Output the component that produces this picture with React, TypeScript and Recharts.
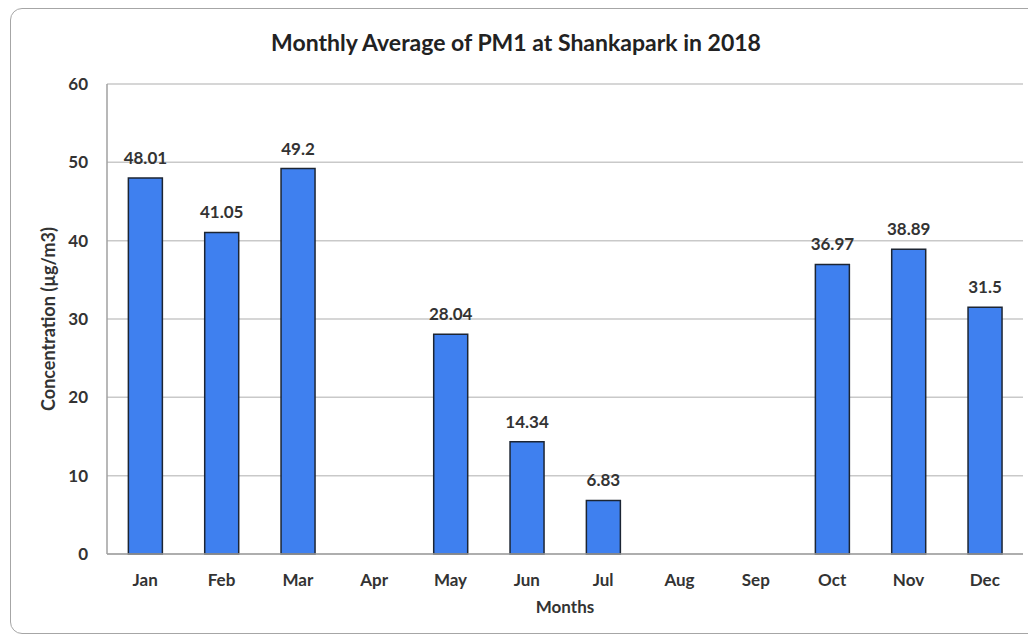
import React from 'react';
import { BarChart, Bar, XAxis, YAxis, CartesianGrid, LabelList, Label } from 'recharts';

const months = ['Jan', 'Feb', 'Mar', 'Apr', 'May', 'Jun', 'Jul', 'Aug', 'Sep', 'Oct', 'Nov', 'Dec'];
const pm1: (number | null)[] = [48.01, 41.05, 49.2, null, 28.04, 14.34, 6.83, null, null, 36.97, 38.89, 31.5];
const yTicks = [0, 10, 20, 30, 40, 50, 60];

const data = months.map((m, i) => ({ month: m, value: pm1[i] }));

const FONT = 'Lato, "Open Sans", sans-serif';

export default function App() {
  return (
    <div style={{ width: 1028, height: 628, overflow: 'hidden', position: 'relative', fontFamily: FONT }}>
      <div
        style={{
          position: 'absolute',
          left: 2,
          top: 0,
          width: 1060,
          height: 626,
          border: '1.5px solid #a6a6a6',
          borderRadius: 12,
          boxSizing: 'border-box',
        }}
      />
      <div
        style={{
          position: 'absolute',
          left: 0,
          width: 1016,
          top: 20,
          textAlign: 'center',
          fontSize: 23,
          lineHeight: '29px',
          fontWeight: 700,
          color: '#222',
          fontFamily: FONT,
        }}
      >
        Monthly Average of PM1 at Shankapark in 2018
      </div>
      <BarChart
        width={1028}
        height={628}
        data={data}
        margin={{ top: 76, right: 13, bottom: 52, left: 39 }}
        barCategoryGap="28%"
        style={{ position: 'absolute', left: 0, top: 0 }}
      >
        <CartesianGrid vertical={false} stroke="#c9c9c9" strokeWidth={1.5} />
        <XAxis
          dataKey="month"
          height={30}
          stroke="#a0a0a0"
          strokeWidth={1.5}
          tickLine={false}
          tickSize={0}
          tickMargin={20}
          tick={{ fill: '#333', fontSize: 17, fontWeight: 700, fontFamily: FONT }}
          interval={0}
        >
          <Label
            content={() => (
              <text x={557} y={605} textAnchor="middle" fill="#333" fontSize={17} fontWeight={700} fontFamily={FONT}>
                Months
              </text>
            )}
          />
        </XAxis>
        <YAxis
          width={60}
          domain={[0, 60]}
          ticks={yTicks}
          stroke="#a0a0a0"
          strokeWidth={1.5}
          tickLine={false}
          tickSize={0}
          tickMargin={19}
          tick={{ fill: '#333', fontSize: 17, fontWeight: 700, fontFamily: FONT }}
        >
          <Label
            content={() => (
              <text
                x={47}
                y={311}
                transform="rotate(-90, 47, 311)"
                textAnchor="middle"
                fill="#333"
                fontSize={18}
                fontWeight={700}
                fontFamily={FONT}
              >
                Concentration (µg/m3)
              </text>
            )}
          />
        </YAxis>
        <Bar dataKey="value" fill="#3f80ef" stroke="#1c2533" strokeWidth={1.5} isAnimationActive={false}>
          <LabelList
            dataKey="value"
            position="top"
            offset={14}
            fill="#333"
            fontSize={17}
            fontWeight={700}
            fontFamily={FONT}
            formatter={(v: any) => (v == null ? '' : String(v))}
          />
        </Bar>
      </BarChart>
    </div>
  );
}
